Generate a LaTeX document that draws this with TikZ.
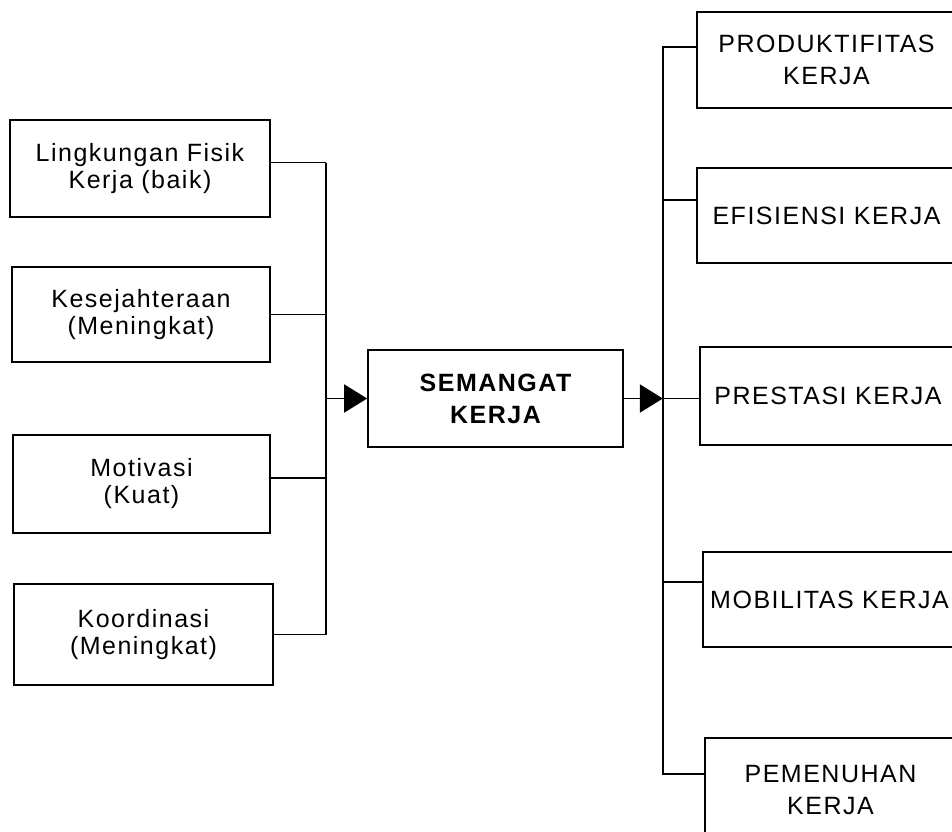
\documentclass[tikz,border=0pt]{standalone}
\usepackage{fontspec}
\newfontfamily\diafont[LetterSpace=6]{Liberation Sans}
\usetikzlibrary{arrows.meta,positioning}

\begin{document}
\begin{tikzpicture}[x=1pt, y=-1pt, line width=1.8pt, >={Triangle[length=23pt,width=28pt]},
    kiri/.style={draw, line width=1.7pt, inner sep=0pt, align=center, font=\diafont\fontsize{25}{27}\selectfont},
    kanan/.style={draw, line width=1.7pt, inner sep=0pt, align=center, font=\diafont\fontsize{25}{32}\selectfont}]
    \useasboundingbox (0,0) rectangle (952,831);
    \clip (0,0) rectangle (952,831);

    % Faktor
    \node[kiri, minimum width=260pt, minimum height=97pt] (fisik) at (140,168.5) {Lingkungan Fisik\\Kerja (baik)};
    \node[kiri, minimum width=258pt, minimum height=95pt] (sejahtera) at (141,314.5) {Kesejahteraan\\(Meningkat)};
    \node[kiri, minimum width=257pt, minimum height=98pt] (motivasi) at (141.5,484) {Motivasi\\(Kuat)};
    \node[kiri, minimum width=259pt, minimum height=101pt] (koordinasi) at (143.5,634.5) {Koordinasi\\(Meningkat)};

    % Semangat
    \node[kanan, font=\diafont\bfseries\fontsize{25}{32}\selectfont, minimum width=255pt, minimum height=97pt] (semangat) at (495.5,398.5) {SEMANGAT\\KERJA};

    % Hasil
    \node[kanan, minimum width=259pt, minimum height=96pt] (produktif) at (826.5,60) {PRODUKTIFITAS\\KERJA};
    \node[kanan, minimum width=259pt, minimum height=95pt] (efisiensi) at (826.5,215.5) {EFISIENSI KERJA};
    \node[kanan, minimum width=256pt, minimum height=98pt] (prestasi) at (828,396) {PRESTASI KERJA};
    \node[kanan, minimum width=253pt, minimum height=95pt] (mobilitas) at (829.5,599.5) {MOBILITAS KERJA};
    \node[kanan, minimum width=251pt, minimum height=104pt] (pemenuhan) at (830.5,790) {PEMENUHAN\\KERJA};

    % Garis kiri
    \draw ([yshift=6pt]fisik.east) -- ++(55pt,0) coordinate (ltop);
    \draw (ltop) |- (koordinasi.east);
    \draw (sejahtera.east) -- (sejahtera.east -| ltop);
    \draw ([yshift=6pt]motivasi.east) -- ([yshift=6pt]motivasi.east -| ltop);
    \draw[->] (semangat.west -| ltop) -- (semangat.west);

    % Garis kanan
    \draw[->] (semangat.east) -- ++(39pt,0) coordinate (rmid);
    \draw (rmid) -- (prestasi.west |- rmid);
    \draw (produktif.west |- 0,47) -| (rmid) |- (pemenuhan.west |- 0,774);
    \draw (efisiensi.west |- 0,200) -- (rmid |- 0,200);
    \draw (mobilitas.west |- 0,582) -- (rmid |- 0,582);
\end{tikzpicture}
\end{document}
